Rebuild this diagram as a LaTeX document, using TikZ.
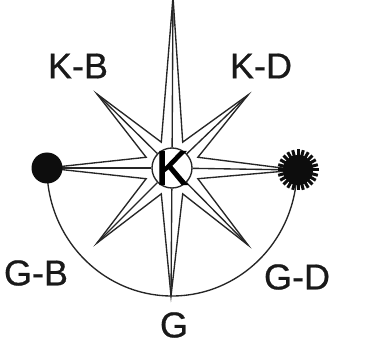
\documentclass[tikz,border=0pt]{standalone}
\usepackage{fontspec}
\setmainfont{Liberation Sans}
\newfontfamily\labfont[FakeBold=0.6]{Liberation Sans}
\newfontfamily\kfont[FakeBold=2.2]{Liberation Sans}
\usetikzlibrary{calc}
\tikzset{
  ink/.style={draw=black!85,line width=1.35pt,line join=miter,miter limit=30},
  lab/.style={inner sep=0pt,font=\labfont\fontsize{36}{36}\selectfont,text=black!90},
  centerring/.style={circle,draw=black!85,line width=1.35pt,fill=white,minimum size=40pt,inner sep=0pt},
  planet/.style={circle,fill=black!95,inner sep=0pt,minimum size=#1}
}
\begin{document}
\begin{tikzpicture}[x=1pt,y=-1pt]
\useasboundingbox (0,0) rectangle (381,361);
\fill[white] (0,0) rectangle (381,361);
\coordinate (c) at (172,168);
\coordinate (t1) at (173,-3);
\coordinate (t2) at (248,95);
\coordinate (t3) at (298,170);
\coordinate (t4) at (248,245);
\coordinate (t5) at (171,296);
\coordinate (t6) at (97,243);
\coordinate (t7) at (47,168);
\coordinate (t8) at (97,94);
\foreach \n/\a in {1/67.5,2/22.5,3/-22.5,4/-67.5,5/-112.5,6/-157.5,7/157.5,8/112.5}
  \coordinate (i\n) at ($(c)+(\a:28 and -28)$);
% arc from left disc to sun
\coordinate (as) at (47,168);
\draw[ink] (as) arc[start angle=180,end angle=360,x radius=125pt,y radius=128pt];
% star outline
\draw[ink] (t1)--(i1)--(t2)--(i2)--(t3)--(i3)--(t4)--(i4)--(t5)--(i5)--(t6)--(i6)--(t7)--(i7)--(t8)--(i8)--cycle;
\node[centerring] (K) at (c) {};
\foreach \n in {1,...,8} \draw[ink] (t\n) -- (K);
\node[inner sep=0pt,font=\kfont\fontsize{48}{48}\selectfont,text=black] (Kl) at (c) {K};
\node[planet=31pt] (B) at (t7) {};
\foreach \a in {0,15,...,345} \draw[black!95,line width=3pt] ($(298,170)+(\a:11 and 11)$) -- ($(298,170)+(\a:20.5 and 20.5)$);
\node[planet=30pt] (D) at (298,170) {};
\node[lab] (kb) at (78,66) {K-B};
\node[lab] (kd) at (261,66) {K-D};
\node[lab] (gb) at (36,273) {G-B};
\node[lab] (gd) at (297,277) {G-D};
\node[lab] (g) at (174,325) {G};
\end{tikzpicture}
\end{document}
